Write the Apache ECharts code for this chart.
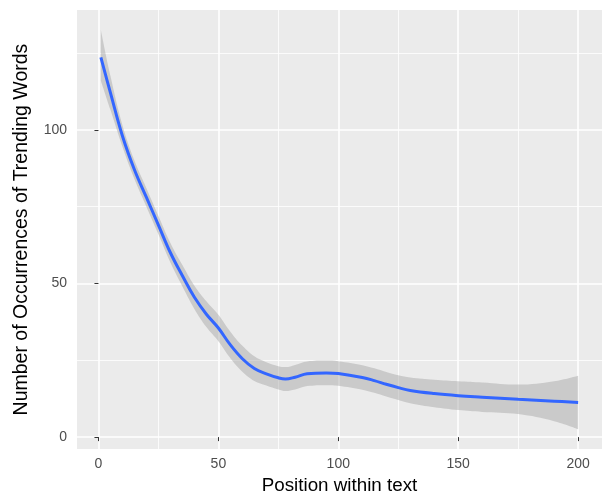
<!DOCTYPE html>
<html>
<head>
<meta charset="utf-8">
<script src="https://cdn.jsdelivr.net/npm/echarts@6/dist/echarts.min.js"></script>
<style>
  html, body { margin: 0; padding: 0; background: #fff; }
  #chart { width: 604px; height: 500px; }
</style>
</head>
<body>
<div id="chart"></div>
<script>
// positions within text (x) and the loess fit with its confidence band
const positions = [1, 5, 10, 15, 20, 25, 30, 35, 40, 45, 50, 55, 60, 65, 70, 75, 78, 82, 87, 95, 100, 110, 115, 120, 125, 130, 140, 150, 160, 175, 190, 200];
const fitValues = [123.6, 112, 98, 87, 78, 69, 60, 52.5, 45.5, 40, 35.5, 30, 25.5, 22.3, 20.6, 19.3, 18.9, 19.5, 20.6, 20.9, 20.7, 19.4, 18.4, 17.2, 16.1, 15.2, 14.2, 13.5, 13.0, 12.3, 11.7, 11.3];
const lowerValues = [116, 106.5, 94.5, 84, 75, 66, 56.8, 49, 41.7, 35.8, 31.2, 25.7, 21.3, 18.3, 16.8, 15.5, 15, 15.5, 16.6, 16.9, 16.7, 15.4, 14.4, 13.2, 12.1, 11, 9.7, 8.8, 8.2, 7.5, 5.2, 2.6];
const upperValues = [132.5, 117.5, 101.5, 90, 81, 72, 63.2, 56, 49.3, 44.2, 39.8, 34.3, 29.7, 26.3, 24.4, 23.1, 22.8, 23.5, 24.6, 24.9, 24.7, 23.4, 22.4, 21.2, 20.1, 19.4, 18.7, 18.2, 17.8, 17.1, 18.2, 20];
const majorTicksX = [0, 50, 100, 150, 200];
const minorTicksX = [25, 75, 125, 175];
const majorTicksY = [0, 50, 100];
const minorTicksY = [25, 75, 125];

const chart = echarts.init(document.getElementById('chart'));

const fontFamily = '"Liberation Sans", Arial, sans-serif';
const xMin = -8.95, xMax = 209.95;
const yMin = -3.9, yMax = 139;

// value first, position second: with two value axes ECharts stacks the first
// numeric dimension, so the band is stacked on y
let lowerData = positions.map((x, i) => [lowerValues[i], x]);
let bandData = positions.map((x, i) => [upperValues[i] - lowerValues[i], x]);
let fitData = positions.map((x, i) => [fitValues[i], x]);

chart.setOption({
  animation: false,
  backgroundColor: '#ffffff',
  grid: {
    left: 77, right: 2, top: 10, bottom: 50,
    show: true,
    backgroundColor: '#ebebeb',
    borderWidth: 0
  },
  xAxis: [
    {
      type: 'value',
      min: xMin, max: xMax,
      name: 'Position within text',
      nameLocation: 'middle',
      nameGap: 26,
      nameTextStyle: { color: '#000', fontSize: 18.8, fontFamily: fontFamily },
      axisLine: { show: false },
      axisTick: { show: true, length: 4, customValues: majorTicksX, lineStyle: { color: '#333', width: 1 } },
      axisLabel: { customValues: majorTicksX, color: '#4d4d4d', fontSize: 14, margin: 8, fontFamily: fontFamily },
      splitLine: { show: true, lineStyle: { color: '#ffffff', width: 1.6 } }
    },
    {
      type: 'value',
      min: xMin, max: xMax,
      axisLine: { show: false },
      axisTick: { show: false, customValues: minorTicksX },
      axisLabel: { show: false },
      splitLine: { show: true, lineStyle: { color: '#ffffff', width: 0.8 } }
    }
  ],
  yAxis: [
    {
      type: 'value',
      min: yMin, max: yMax,
      name: 'Number of Occurrences of Trending Words',
      nameLocation: 'middle',
      nameGap: 45,
      nameTextStyle: { color: '#000', fontSize: 19.5, fontFamily: fontFamily },
      axisLine: { show: false },
      axisTick: { show: true, length: 4, customValues: majorTicksY, lineStyle: { color: '#333', width: 1 } },
      axisLabel: { customValues: majorTicksY, color: '#4d4d4d', fontSize: 14, margin: 10, fontFamily: fontFamily },
      splitLine: { show: true, lineStyle: { color: '#ffffff', width: 1.6 } }
    },
    {
      type: 'value',
      min: yMin, max: yMax,
      axisLine: { show: false },
      axisTick: { show: false, customValues: minorTicksY },
      axisLabel: { show: false },
      splitLine: { show: true, lineStyle: { color: '#ffffff', width: 0.8 } }
    }
  ],
  series: [
    {
      name: 'lower',
      type: 'line',
      stack: 'ci',
      smooth: 0.4,
      symbol: 'none',
      encode: { x: 1, y: 0 },
      lineStyle: { opacity: 0 },
      data: lowerData,
      z: 3
    },
    {
      name: 'band',
      type: 'line',
      stack: 'ci',
      smooth: 0.4,
      symbol: 'none',
      encode: { x: 1, y: 0 },
      lineStyle: { opacity: 0 },
      areaStyle: { color: '#999999', opacity: 0.4 },
      data: bandData,
      z: 3
    },
    {
      name: 'fit',
      type: 'line',
      smooth: 0.4,
      symbol: 'none',
      encode: { x: 1, y: 0 },
      lineStyle: { color: '#3366ff', width: 3 },
      data: fitData,
      z: 4
    }
  ]
});
</script>
</body>
</html>
